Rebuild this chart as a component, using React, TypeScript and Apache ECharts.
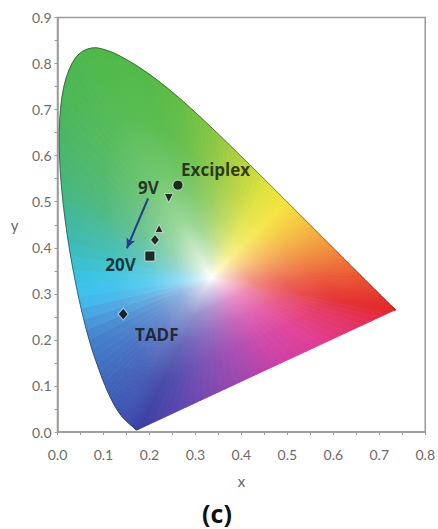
import React, { useEffect, useRef } from "react";
import * as echarts from "echarts";

// CIE 1931 2° spectral locus (380–700 nm, 5 nm)
const wavelengths = [
  380, 385, 390, 395, 400, 405, 410, 415, 420, 425, 430, 435, 440, 445, 450, 455,
  460, 465, 470, 475, 480, 485, 490, 495, 500, 505, 510, 515, 520, 525, 530, 535,
  540, 545, 550, 555, 560, 565, 570, 575, 580, 585, 590, 595, 600, 605, 610, 615,
  620, 625, 630, 635, 640, 645, 650, 655, 660, 665, 670, 675, 680, 685, 690, 695, 700,
];
const locusX = [
  0.1741, 0.174, 0.1738, 0.1736, 0.1733, 0.173, 0.1726, 0.1721, 0.1714, 0.1703, 0.1689,
  0.1669, 0.1644, 0.1611, 0.1566, 0.151, 0.144, 0.1355, 0.1241, 0.1096, 0.0913, 0.0687,
  0.0454, 0.0235, 0.0082, 0.0039, 0.0139, 0.0389, 0.0743, 0.1142, 0.1547, 0.1929, 0.2296,
  0.2658, 0.3016, 0.3373, 0.3731, 0.4087, 0.4441, 0.4788, 0.5125, 0.5448, 0.5752, 0.6029,
  0.627, 0.6482, 0.6658, 0.6801, 0.6915, 0.7006, 0.7079, 0.714, 0.719, 0.723, 0.726,
  0.7283, 0.73, 0.7311, 0.732, 0.7327, 0.7334, 0.734, 0.7344, 0.7346, 0.7347,
];
const locusY = [
  0.005, 0.005, 0.0049, 0.0049, 0.0048, 0.0048, 0.0048, 0.0048, 0.0051, 0.0058, 0.0069,
  0.0086, 0.0109, 0.0138, 0.0177, 0.0227, 0.0297, 0.0399, 0.0578, 0.0868, 0.1327, 0.2007,
  0.295, 0.4127, 0.5384, 0.6548, 0.7502, 0.812, 0.8338, 0.8262, 0.8059, 0.7816, 0.7543,
  0.7243, 0.6923, 0.6589, 0.6245, 0.5896, 0.5547, 0.5202, 0.4866, 0.4544, 0.4242, 0.3965,
  0.3725, 0.3514, 0.334, 0.3197, 0.3083, 0.2993, 0.292, 0.2859, 0.2809, 0.277, 0.274,
  0.2717, 0.27, 0.2689, 0.268, 0.2673, 0.2666, 0.266, 0.2656, 0.2654, 0.2653,
];
const whitePoint = [0.335, 0.335];

// Measured CIE coordinates
const pointNames = ["Exciplex", "9V", "12V", "15V", "20V", "TADF"];
const pointX = [0.262, 0.242, 0.221, 0.212, 0.201, 0.143];
const pointY = [0.536, 0.508, 0.442, 0.417, 0.382, 0.256];

// Annotations
const labelText = ["Exciplex", "9V", "20V", "TADF"];
const labelX = [0.344, 0.198, 0.137, 0.216];
const labelY = [0.569, 0.53, 0.364, 0.211];
const arrowFrom = [0.197, 0.507];
const arrowTo = [0.151, 0.399];

const xTicks = [0, 0.8, 0.1];
const yTicks = [0, 0.9, 0.1];

// ---- colour helpers (rendering only) ----
const spectralAnchors: [number, string][] = [
  [380, "#3a3fa0"], [440, "#3b45a8"], [460, "#3c4eae"], [470, "#3e58b4"], [475, "#3e60b8"],
  [480, "#3f6cc0"], [485, "#4280cc"], [488, "#48a4e0"], [490, "#3cc0f0"], [492, "#38c2e2"],
  [495, "#3cbab4"], [500, "#46b67c"], [505, "#4ab664"], [510, "#4bb754"], [520, "#4cb848"],
  [535, "#52b946"], [545, "#62bd44"], [555, "#86c642"], [565, "#b8d43e"], [572, "#e0e23c"],
  [578, "#f4e43e"], [585, "#f6c040"], [592, "#f29a3e"], [600, "#ee7436"], [610, "#ea5030"],
  [625, "#e6382c"], [650, "#e42a28"], [700, "#e22626"],
];
const purpleAnchors: [number, string][] = [
  [0, "#e22626"], [0.12, "#e4305c"], [0.3, "#e03c94"], [0.45, "#cc40a6"], [0.6, "#a046b0"],
  [0.77, "#7048b0"], [0.9, "#4c44aa"], [1, "#3a3fa0"],
];
const hexToRgb = (h: string) => [
  parseInt(h.slice(1, 3), 16), parseInt(h.slice(3, 5), 16), parseInt(h.slice(5, 7), 16),
];
const mixRgb = (a: number[], b: number[], t: number) => a.map((v, i) => v + (b[i] - v) * t);
const rgbStr = (c: number[]) => `rgb(${c.map((v) => Math.round(v)).join(",")})`;
function fromAnchors(anchors: [number, string][], v: number) {
  if (v <= anchors[0][0]) return hexToRgb(anchors[0][1]);
  for (let i = 0; i < anchors.length - 1; i++) {
    const [a, ca] = anchors[i];
    const [b, cb] = anchors[i + 1];
    if (v <= b) return mixRgb(hexToRgb(ca), hexToRgb(cb), (v - a) / (b - a));
  }
  return hexToRgb(anchors[anchors.length - 1][1]);
}
const rampT = [0, 0.1, 0.25, 0.45, 0.7, 1];
const rampMix = [0, 0.27, 0.58, 0.8, 0.94, 1];

function triangle(W: number[], A: number[], B: number[], edge: number[]) {
  const dx = B[0] - A[0];
  const dy = B[1] - A[1];
  const len2 = dx * dx + dy * dy;
  let F = A;
  if (len2 > 1e-6) {
    const t = ((W[0] - A[0]) * dx + (W[1] - A[1]) * dy) / len2;
    F = [A[0] + dx * t, A[1] + dy * t];
  }
  const white = [255, 255, 255];
  const grad = {
    type: "linear",
    x: W[0], y: W[1], x2: F[0], y2: F[1],
    global: true,
    colorStops: rampT.map((t, i) => ({ offset: t, color: rgbStr(mixRgb(white, edge, rampMix[i])) })),
  };
  return {
    type: "polygon",
    shape: { points: [W, A, B] },
    style: { fill: grad, stroke: grad, lineWidth: 0.9 },
  };
}

// Catmull-Rom through neighbouring locus points (pixel space), for a smooth outline
function curvePoints(api: any, i: number, K: number) {
  const n = locusX.length;
  const P = (j: number) => {
    const k = Math.max(0, Math.min(n - 1, j));
    return api.coord([locusX[k], locusY[k]]);
  };
  const p0 = P(i - 1), p1 = P(i), p2 = P(i + 1), p3 = P(i + 2);
  const pts: number[][] = [];
  for (let s = 0; s <= K; s++) {
    const u = s / K, u2 = u * u, u3 = u2 * u;
    pts.push([0, 1].map((d) =>
      0.5 * (2 * p1[d] + (-p0[d] + p2[d]) * u + (2 * p0[d] - 5 * p1[d] + 4 * p2[d] - p3[d]) * u2 +
        (-p0[d] + 3 * p1[d] - 3 * p2[d] + p3[d]) * u3)
    ));
  }
  return pts;
}

export default function App() {
  const ref = useRef<HTMLDivElement>(null);
  useEffect(() => {
    if (!ref.current) return;
    const chart = echarts.init(ref.current, null, { renderer: "svg" });
    const n = locusX.length;
    const axisGray = "#9a9a9a";
    const labelGray = "#6c6c6c";
    const K = 4;

    const option: any = {
      animation: false,
      backgroundColor: "#ffffff",
      grid: {
        left: 57.5, right: 11, top: 17.5, bottom: 97,
        show: true, borderColor: axisGray, borderWidth: 1.5, backgroundColor: "transparent",
      },
      xAxis: {
        type: "value", min: xTicks[0], max: xTicks[1], interval: xTicks[2],
        name: "x", nameLocation: "middle", nameGap: 41,
        nameTextStyle: { color: "#666", fontSize: 15, fontFamily: "Lato" },
        axisLine: { show: true, lineStyle: { color: axisGray, width: 1.5 } },
        axisTick: { show: true, length: 3, lineStyle: { color: axisGray } },
        minorTick: { show: true, splitNumber: 2, length: 3, lineStyle: { color: axisGray } },
        splitLine: { show: false },
        axisLabel: {
          color: labelGray, fontSize: 14, fontFamily: "Lato", margin: 15,
          formatter: (v: number) => v.toFixed(1),
        },
      },
      yAxis: {
        type: "value", min: yTicks[0], max: yTicks[1], interval: yTicks[2],
        name: "y", nameLocation: "middle", nameGap: 39, nameRotate: 0,
        nameTextStyle: { color: "#666", fontSize: 15, fontFamily: "Lato" },
        axisLine: { show: true, lineStyle: { color: axisGray, width: 1.5 } },
        axisTick: { show: true, length: 3, lineStyle: { color: axisGray } },
        minorTick: { show: true, splitNumber: 2, length: 3, lineStyle: { color: axisGray } },
        splitLine: { show: false },
        axisLabel: {
          color: labelGray, fontSize: 14, fontFamily: "Lato", margin: 6,
          formatter: (v: number) => v.toFixed(1),
        },
      },
      series: [
        {
          type: "custom",
          z: 1,
          silent: true,
          data: locusX.map((x, i) => [x, locusY[i], i]),
          renderItem: (params: any, api: any) => {
            const i = api.value(2);
            const W = api.coord(whitePoint);
            const children: any[] = [];
            if (i < n - 1) {
              const pts = curvePoints(api, i, K);
              for (let s = 0; s < K; s++) {
                const wl = wavelengths[i] + (wavelengths[i + 1] - wavelengths[i]) * ((s + 0.5) / K);
                children.push(triangle(W, pts[s], pts[s + 1], fromAnchors(spectralAnchors, wl)));
              }
              return { type: "group", children };
            }
            const R = api.coord([locusX[n - 1], locusY[n - 1]]);
            const V = api.coord([locusX[0], locusY[0]]);
            const N = 32;
            for (let k = 0; k < N; k++) {
              const t0 = k / N;
              const t1 = (k + 1) / N;
              const A = [R[0] + (V[0] - R[0]) * t0, R[1] + (V[1] - R[1]) * t0];
              const B = [R[0] + (V[0] - R[0]) * t1, R[1] + (V[1] - R[1]) * t1];
              children.push(triangle(W, A, B, fromAnchors(purpleAnchors, (t0 + t1) / 2)));
            }
            return { type: "group", children };
          },
        },
        {
          type: "custom",
          z: 3,
          silent: true,
          data: locusX.slice(0, n - 1).map((x, i) => [x, locusY[i], i]),
          renderItem: (params: any, api: any) => {
            const i = api.value(2);
            return {
              type: "polyline",
              shape: { points: curvePoints(api, i, K) },
              style: { stroke: "rgba(40,50,40,0.55)", lineWidth: 1, fill: "none" },
            };
          },
        },
        {
          type: "scatter",
          z: 5,
          silent: true,
          data: pointX.map((x, i) => ({
            name: pointNames[i],
            value: [x, pointY[i]],
            symbol: ["circle", "triangle", "triangle", "diamond", "rect", "diamond"][i],
            symbolRotate: i === 1 ? 180 : 0,
            symbolSize: [10, 9, 8, [9, 11], 10, [10, 12]][i],
          })),
          itemStyle: { color: "#050505", borderColor: "rgba(255,255,255,0.8)", borderWidth: 1 },
        },
        {
          type: "scatter",
          z: 6,
          silent: true,
          symbolSize: 0,
          data: labelX.map((x, i) => ({ name: labelText[i], value: [x, labelY[i]] })),
          label: {
            show: true,
            position: "inside",
            formatter: (p: any) => p.name,
            color: "#111",
            fontSize: 17,
            fontWeight: "bold",
            fontFamily: "Open Sans",
          },
          markLine: {
            silent: true,
            symbol: ["none", "arrow"],
            symbolSize: [7, 10],
            label: { show: false },
            lineStyle: { color: "#2a3a8c", width: 2, type: "solid" },
            data: [[{ coord: arrowFrom }, { coord: arrowTo }]],
          },
        },
      ],
      graphic: [
        {
          type: "text",
          x: 217,
          y: 513,
          style: {
            text: "(c)",
            fill: "#111",
            font: "bold 25px 'Open Sans'",
            textAlign: "center",
            textVerticalAlign: "middle",
          },
        },
      ],
    };
    chart.setOption(option);
    return () => chart.dispose();
  }, []);
  return (
    <div
      ref={ref}
      style={{ position: "fixed", left: 0, top: 0, width: 438, height: 529, background: "#fff" }}
    />
  );
}
